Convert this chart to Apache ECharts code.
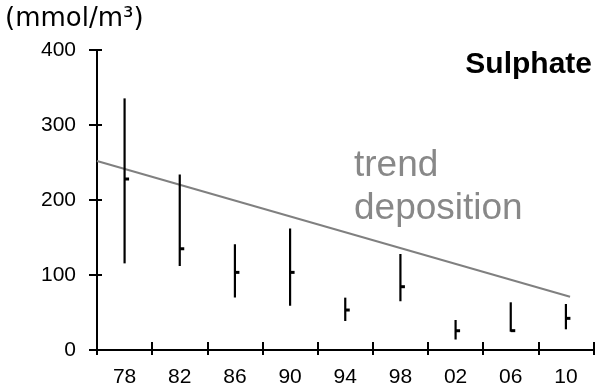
<!DOCTYPE html>
<html>
<head>
<meta charset="utf-8">
<script src="https://cdn.jsdelivr.net/npm/echarts@6/dist/echarts.min.js"></script>
<style>
  html, body { margin: 0; padding: 0; background: #fff; }
  #chart { width: 598px; height: 389px; }
</style>
</head>
<body>
<div id="chart"></div>
<script>
// Sampling years (19xx / 20xx written as years after 1900)
const years = [78, 82, 86, 90, 94, 98, 102, 106, 110];
const yearLabels = ['78', '82', '86', '90', '94', '98', '02', '06', '10'];
// Sulphate in precipitation (mmol/m³): range and mean per period
const lowValues  = [115.5, 112, 70, 59, 38.7, 65, 14, 24.4, 27.6];
const highValues = [335.5, 234, 141, 162, 69.8, 128, 40, 63.6, 61.3];
const meanValues = [228, 135, 103.5, 103.5, 53.3, 84.4, 25.7, 25.8, 42.2];
// Fitted deposition trend (start / end)
const trendYears = [76, 110.3];
const trendValues = [252, 71];
// Axis ticks
const xTickYears = [76, 80, 84, 88, 92, 96, 100, 104, 108, 112];
const yTicks = [0, 100, 200, 300, 400];

const chart = echarts.init(document.getElementById('chart'), null, { renderer: 'canvas' });

const axisFont = { fontFamily: 'Liberation Sans, Arial, sans-serif', fontSize: 21, color: '#000' };

const rangeData = years.map((y, i) => [y, lowValues[i], highValues[i], meanValues[i]]);

chart.setOption({
  animation: false,
  grid: { left: 97, right: 4.5, top: 50, bottom: 39 },
  xAxis: [
    {
      type: 'value', min: 76, max: 112, position: 'bottom',
      axisLine: { show: true, lineStyle: { color: '#000', width: 2 } },
      axisTick: { show: true, length: 5, inside: false, customValues: xTickYears, lineStyle: { color: '#000', width: 2 } },
      axisLabel: {
        show: true, customValues: years, margin: 17, ...axisFont,
        formatter: v => yearLabels[years.indexOf(v)]
      },
      splitLine: { show: false }
    },
    {
      type: 'value', min: 76, max: 112, position: 'bottom',
      axisLine: { show: false },
      axisTick: { show: true, length: 8, inside: true, customValues: xTickYears, lineStyle: { color: '#000', width: 2 } },
      axisLabel: { show: false },
      splitLine: { show: false }
    }
  ],
  yAxis: [
    {
      type: 'value', min: 0, max: 400, interval: 100, position: 'left',
      axisLine: { show: true, lineStyle: { color: '#000', width: 2 } },
      axisTick: { show: true, length: 8, inside: false, customValues: yTicks, lineStyle: { color: '#000', width: 2 } },
      axisLabel: { show: true, margin: 21, customValues: yTicks, ...axisFont },
      splitLine: { show: false }
    },
    {
      type: 'value', min: 0, max: 400, interval: 100, position: 'left',
      axisLine: { show: false },
      axisTick: { show: true, length: 5, inside: true, customValues: yTicks, lineStyle: { color: '#000', width: 2 } },
      axisLabel: { show: false },
      splitLine: { show: false }
    }
  ],
  graphic: [
    {
      type: 'text', left: 5, top: 6,
      style: { text: '(mmol/m³)', fill: '#000', font: '26px "DejaVu Sans", sans-serif' }
    },
    {
      type: 'text', right: 6, top: 50,
      style: { text: 'Sulphate', fill: '#000', font: 'bold 30px "Liberation Sans", Arial, sans-serif' }
    },
    {
      type: 'text', left: 354, top: 144,
      style: { text: 'trend\ndeposition', fill: '#888', lineHeight: 43, font: '37px "Liberation Sans", Arial, sans-serif' }
    }
  ],
  series: [
    {
      type: 'line', xAxisIndex: 0, yAxisIndex: 0,
      data: trendYears.map((y, i) => [y, trendValues[i]]),
      symbol: 'none',
      lineStyle: { color: '#808080', width: 2 },
      z: 2
    },
    {
      type: 'custom', xAxisIndex: 0, yAxisIndex: 0,
      data: rangeData,
      z: 3,
      renderItem: (params, api) => {
        const x = api.value(0);
        const pLo = api.coord([x, api.value(1)]);
        const pHi = api.coord([x, api.value(2)]);
        const pMid = api.coord([x, api.value(3)]);
        return {
          type: 'group',
          children: [
            { type: 'line', shape: { x1: pLo[0], y1: pLo[1], x2: pHi[0], y2: pHi[1] },
              style: { stroke: '#000', lineWidth: 2.2 } },
            { type: 'rect', shape: { x: pMid[0], y: pMid[1] - 1.5, width: 4.5, height: 3 },
              style: { fill: '#000' } }
          ]
        };
      }
    }
  ]
});
</script>
</body>
</html>
